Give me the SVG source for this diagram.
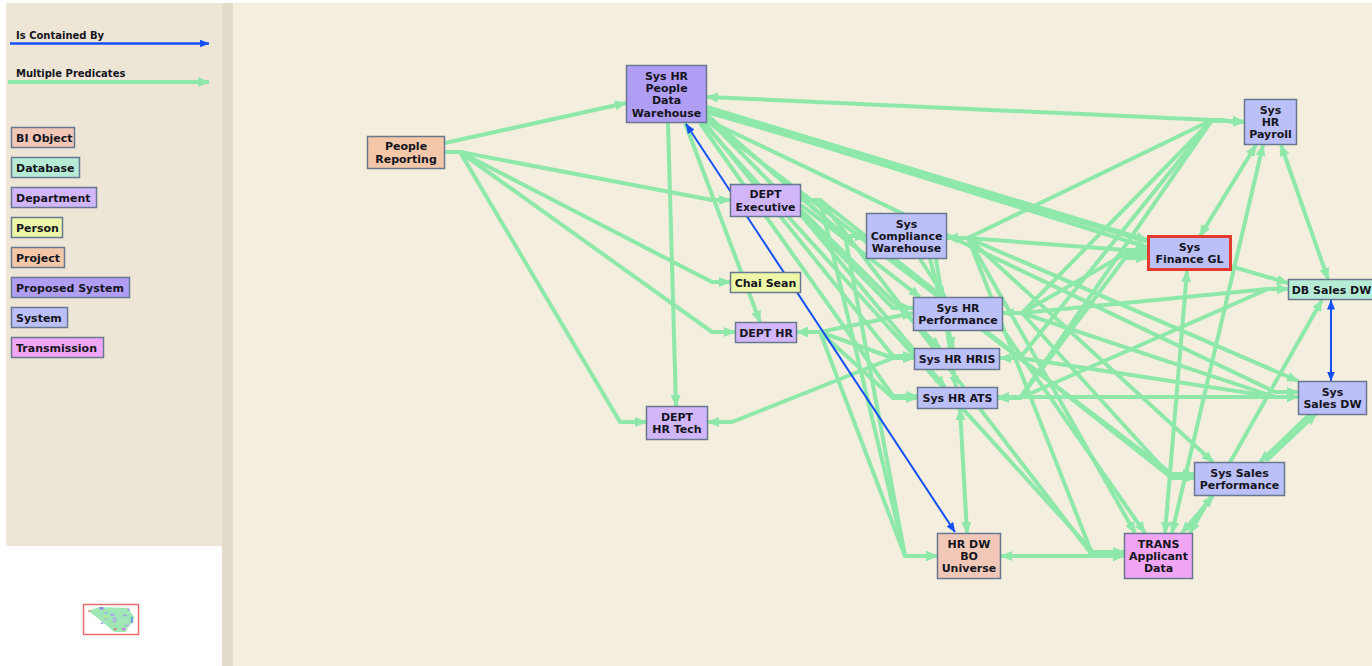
<svg xmlns="http://www.w3.org/2000/svg" width="1372" height="666" viewBox="0 0 1372 666">
<defs>
<style>
.e{fill:none;stroke:#8ee8aa;stroke-width:4;stroke-linejoin:round}
.ee{marker-end:url(#ag)}
.eb{marker-start:url(#ag);marker-end:url(#ag)}
.b{fill:none;stroke:#1450f5;stroke-width:2;marker-start:url(#ab);marker-end:url(#ab)}
.n{stroke:#687890;stroke-width:1.5}
.bi{fill:#f1c7b8}.db{fill:#b6ecd6}.dp{fill:#d2b6fa}.pe{fill:#eef7a8}.pj{fill:#f3c7a7}.ps{fill:#b09ef4}.sy{fill:#bcc0f8}.tr{fill:#f0a6f4}
.t{font-family:"DejaVu Sans","Liberation Sans",sans-serif;font-weight:bold;font-size:11px;fill:#151520;text-anchor:middle}
.l{font-family:"DejaVu Sans","Liberation Sans",sans-serif;font-weight:bold;font-size:11px;fill:#151520}
.lh{font-family:"DejaVu Sans","Liberation Sans",sans-serif;font-weight:bold;font-size:10px;fill:#151520}
</style>
<marker id="ag" markerUnits="userSpaceOnUse" markerWidth="12" markerHeight="10" refX="11" refY="5" orient="auto-start-reverse" viewBox="0 0 12 10"><path d="M0,0 L12,5 L0,10 z" fill="#8ee8aa"/></marker>
<marker id="ab" markerUnits="userSpaceOnUse" markerWidth="10" markerHeight="8" refX="9.5" refY="4" orient="auto-start-reverse" viewBox="0 0 10 8"><path d="M0,0 L10,4 L0,8 z" fill="#1450f5"/></marker>
</defs>

<!-- backgrounds -->
<rect x="0" y="0" width="1372" height="666" fill="#ffffff"/>
<rect x="6" y="3" width="216" height="543" fill="#ede5d5"/>
<rect x="222" y="3" width="11" height="663" fill="#e3dccb"/>
<rect x="233" y="3" width="1139" height="663" fill="#f3eedd"/>

<!-- legend -->
<g id="legend">
<text class="lh" x="16" y="38.5">Is Contained By</text>
<line x1="10" y1="43.5" x2="209" y2="43.5" stroke="#1450f5" stroke-width="2.5" marker-end="url(#ab)"/>
<text class="lh" x="16" y="77">Multiple Predicates</text>
<line x1="8" y1="82" x2="209" y2="82" class="e ee"/>
<rect class="n bi" x="11.5" y="127.5" width="63" height="20"/><text class="l" x="16" y="141.5">BI Object</text>
<rect class="n db" x="11.5" y="157.5" width="68" height="20"/><text class="l" x="16" y="171.5">Database</text>
<rect class="n dp" x="11.5" y="187.5" width="85" height="20"/><text class="l" x="16" y="201.5">Department</text>
<rect class="n pe" x="11.5" y="217.5" width="51" height="20"/><text class="l" x="16" y="231.5">Person</text>
<rect class="n pj" x="11.5" y="247.5" width="53" height="20"/><text class="l" x="16" y="261.5">Project</text>
<rect class="n ps" x="11.5" y="277.5" width="118" height="20"/><text class="l" x="16" y="291.5">Proposed System</text>
<rect class="n sy" x="11.5" y="307.5" width="56" height="20"/><text class="l" x="16" y="321.5">System</text>
<rect class="n tr" x="11.5" y="337.5" width="92" height="20"/><text class="l" x="16" y="351.5">Transmission</text>
</g>

<!-- overview -->
<g id="overview">
<polygon points="88,611 99,607 128,608 134,617 133,623 128,626 126,632 114,632 105,624 90,612" fill="#9fe8b6"/>
<g fill="#a9a0ee">
<rect x="88" y="610.2" width="3.5" height="1.5" fill="#d8a888"/>
<rect x="99.7" y="607" width="3.6" height="2.6" fill="#8f7fe0"/>
<rect x="104.4" y="612.4" width="3.2" height="1.5"/>
<rect x="110.5" y="613.7" width="3.6" height="2.1"/>
<rect x="104.4" y="616.3" width="3.2" height="0.9" fill="#d6e07c"/>
<rect x="104.6" y="618.6" width="2.8" height="0.9"/>
<rect x="100.6" y="622.4" width="2.8" height="1.5"/>
<rect x="112.6" y="617.5" width="4" height="1.5"/>
<rect x="112.6" y="619.8" width="3.9" height="1"/>
<rect x="112.8" y="621.5" width="3.6" height="1"/>
<rect x="127.5" y="608.6" width="2.4" height="2.1"/>
<rect x="123.1" y="614.7" width="3.8" height="1.6"/>
<rect x="129.5" y="616.7" width="3.8" height="0.9" fill="#88d8b0"/>
<rect x="129.9" y="621.2" width="3.1" height="1.5"/>
<rect x="125.2" y="624.9" width="4.1" height="1.5"/>
<rect x="113.7" y="628.1" width="2.9" height="2.1" fill="#c89080"/>
<rect x="122.1" y="628.1" width="3.1" height="2.1" fill="#d070d8"/>
</g>
<line x1="132" y1="617" x2="132" y2="622" stroke="#1450f5" stroke-width="0.8"/>
<rect x="83.5" y="604.5" width="55" height="30" fill="none" stroke="#e07070" stroke-width="1.5"/>
</g>

<!-- connectors -->
<g id="connectors">
<path class="e ee" d="M445,143 L626,103"/>
<path class="e ee" d="M445,152 L460,152 L712,200 L730,200"/>
<path class="e ee" d="M445,152 L460,152 L712,282 L730,282"/>
<path class="e ee" d="M445,152 L460,152 L712,332 L735,332"/>
<path class="e ee" d="M445,152 L460,152 L620,422 L646,422"/>
<path class="e eb" d="M707,97 L1212,120 L1244,122"/>
<path class="e ee" d="M707,107 L1147,240"/>
<path class="e ee" d="M707,110 L1147,247"/>
<path class="e ee" d="M707,112 L1288,283"/>
<path class="e ee" d="M707,115 L845,236 L866,236"/>
<path class="e ee" d="M707,118 L893,308 L913,308"/>
<path class="e ee" d="M705,123 L893,356 L914,356"/>
<path class="e ee" d="M700,123 L893,396 L917,396"/>
<path class="e ee" d="M707,120 L1275,392 L1298,392"/>
<path class="e ee" d="M707,121 L1172,474 L1194,474"/>
<path class="e ee" d="M703,123 L1093,552 L1124,552"/>
<path class="e ee" d="M668,123 L676,406"/>
<path class="e ee" d="M685,123 L760,322"/>
<path class="e eb" d="M1256,145 L1200,236"/>
<path class="e eb" d="M1263,145 L1172,533"/>
<path class="e eb" d="M1281,145 L1328,279"/>
<path class="e eb" d="M1244,122 L1212,120 L968,238 L947,238"/>
<path class="e eb" d="M1244,122 L1212,120 L1022,313 L1003,313"/>
<path class="e eb" d="M1244,122 L1212,120 L1020,358 L1000,358"/>
<path class="e eb" d="M1244,122 L1212,120 L1020,398 L998,398"/>
<path class="e eb" d="M1187,271 L1165,533"/>
<path class="e ee" d="M1003,313 L1022,313 L1268,289 L1288,289"/>
<path class="e ee" d="M998,398 L1020,398 L1268,289 L1288,289"/>
<path class="e eb" d="M998,397 L1298,397"/>
<path class="e ee" d="M1000,358 L1020,358 L1275,397 L1298,397"/>
<path class="e ee" d="M1003,313 L1022,313 L1275,397 L1298,397"/>
<path class="e ee" d="M947,238 L968,238 L1298,381"/>
<path class="e ee" d="M1000,358 L1020,358 L1172,478 L1194,478"/>
<path class="e ee" d="M1003,313 L1022,313 L1172,478 L1194,478"/>
<path class="e ee" d="M947,238 L968,238 L1213,462"/>
<path class="e ee" d="M801,200 L820,200 L1172,478 L1194,478"/>
<path class="e ee" d="M1310,414 L1260,462"/>
<path class="e ee" d="M1266,461 L1316,414"/>
<path class="e eb" d="M1213,496 L1182,533"/>
<path class="e eb" d="M1322,300 L1190,533"/>
<path class="e ee" d="M947,238 L968,238 L1135,533"/>
<path class="e ee" d="M947,238 L968,238 L1093,556 L1124,556"/>
<path class="e ee" d="M1003,330 L1145,533"/>
<path class="e eb" d="M960,409 L967,533"/>
<path class="e eb" d="M1001,556 L1124,556"/>
<path class="e ee" d="M801,200 L820,200 L905,556 L937,556"/>
<path class="e ee" d="M866,236 L845,236 L905,556 L937,556"/>
<path class="e eb" d="M797,332 L820,332 L913,313"/>
<path class="e eb" d="M797,332 L820,332 L893,358 L914,358"/>
<path class="e eb" d="M797,332 L820,332 L893,398 L917,398"/>
<path class="e eb" d="M708,422 L732,422 L893,358 L914,358"/>
<path class="e ee" d="M920,259 L945,297"/>
<path class="e ee" d="M930,259 L953,348"/>
<path class="e ee" d="M936,259 L956,387"/>
<path class="e ee" d="M801,197 L845,236 L866,236"/>
<path class="e ee" d="M801,205 L920,297"/>
<path class="e ee" d="M801,210 L940,348"/>
<path class="e ee" d="M801,215 L945,387"/>
<path class="e ee" d="M801,200 L820,200 L1093,556 L1124,556"/>
<path class="e eb" d="M947,238 L968,238 L1125,250 L1147,250"/>
<path class="e ee" d="M998,398 L1020,398 L1125,258 L1147,258"/>
<path class="e ee" d="M1003,313 L1022,313 L1125,254 L1147,254"/>
<path class="e ee" d="M797,332 L820,332 L905,556 L937,556"/>
<path class="b" d="M686,124 L955,532"/>
<path class="b" d="M1331,300 L1331,381"/>
</g>

<!-- nodes -->
<g id="n-people-reporting"><rect class="n pj" x="367.5" y="136.5" width="77" height="32"/><text class="t" x="406" y="150.4">People</text><text class="t" x="406" y="162.7">Reporting</text></g>
<g id="n-sys-hr-people-dw"><rect class="n ps" x="626.5" y="65.5" width="80" height="57"/><text class="t" x="666.5" y="79.6">Sys HR</text><text class="t" x="666.5" y="91.9">People</text><text class="t" x="666.5" y="104.2">Data</text><text class="t" x="666.5" y="116.5">Warehouse</text></g>
<g id="n-dept-executive"><rect class="n dp" x="730.5" y="184.5" width="70" height="32"/><text class="t" x="765.5" y="198.4">DEPT</text><text class="t" x="765.5" y="210.7">Executive</text></g>
<g id="n-sys-compliance-warehouse"><rect class="n sy" x="866.5" y="213.5" width="80" height="45"/><text class="t" x="906.5" y="227.7">Sys</text><text class="t" x="906.5" y="240">Compliance</text><text class="t" x="906.5" y="252.3">Warehouse</text></g>
<g id="n-chai-sean"><rect class="n pe" x="730.5" y="272.5" width="70" height="20"/><text class="t" x="765.5" y="286.5">Chai Sean</text></g>
<g id="n-dept-hr"><rect class="n dp" x="735.5" y="322.5" width="61" height="20"/><text class="t" x="766" y="336.5">DEPT HR</text></g>
<g id="n-dept-hr-tech"><rect class="n dp" x="646.5" y="406.5" width="61" height="33"/><text class="t" x="677" y="420.9">DEPT</text><text class="t" x="677" y="433.2">HR Tech</text></g>
<g id="n-sys-hr-performance"><rect class="n sy" x="913.5" y="297.5" width="89" height="33"/><text class="t" x="958" y="311.9">Sys HR</text><text class="t" x="958" y="324.2">Performance</text></g>
<g id="n-sys-hr-hris"><rect class="n sy" x="914.5" y="348.5" width="85" height="21"/><text class="t" x="957" y="363">Sys HR HRIS</text></g>
<g id="n-sys-hr-ats"><rect class="n sy" x="917.5" y="387.5" width="80" height="21"/><text class="t" x="957.5" y="402">Sys HR ATS</text></g>
<g id="n-sys-hr-payroll"><rect class="n sy" x="1244.5" y="99.5" width="52" height="45"/><text class="t" x="1270.5" y="113.7">Sys</text><text class="t" x="1270.5" y="126">HR</text><text class="t" x="1270.5" y="138.3">Payroll</text></g>
<g id="n-sys-finance-gl"><rect x="1148.5" y="236.5" width="82" height="33" fill="#bcc0f8" stroke="#e53b2f" stroke-width="3"/><text class="t" x="1189.5" y="250.9">Sys</text><text class="t" x="1189.5" y="263.2">Finance GL</text></g>
<g id="n-db-sales-dw"><rect class="n db" x="1288.5" y="279.5" width="86" height="20"/><text class="t" x="1331.5" y="293.5">DB Sales DW</text></g>
<g id="n-sys-sales-dw"><rect class="n sy" x="1298.5" y="381.5" width="68" height="33"/><text class="t" x="1332.5" y="395.9">Sys</text><text class="t" x="1332.5" y="408.2">Sales DW</text></g>
<g id="n-sys-sales-performance"><rect class="n sy" x="1194.5" y="462.5" width="90" height="33"/><text class="t" x="1239.5" y="476.9">Sys Sales</text><text class="t" x="1239.5" y="489.2">Performance</text></g>
<g id="n-hr-dw-bo-universe"><rect class="n bi" x="937.5" y="533.5" width="63" height="45"/><text class="t" x="969" y="547.7">HR DW</text><text class="t" x="969" y="560">BO</text><text class="t" x="969" y="572.3">Universe</text></g>
<g id="n-trans-applicant-data"><rect class="n tr" x="1124.5" y="533.5" width="68" height="45"/><text class="t" x="1158.5" y="547.7">TRANS</text><text class="t" x="1158.5" y="560">Applicant</text><text class="t" x="1158.5" y="572.3">Data</text></g>
</svg>
